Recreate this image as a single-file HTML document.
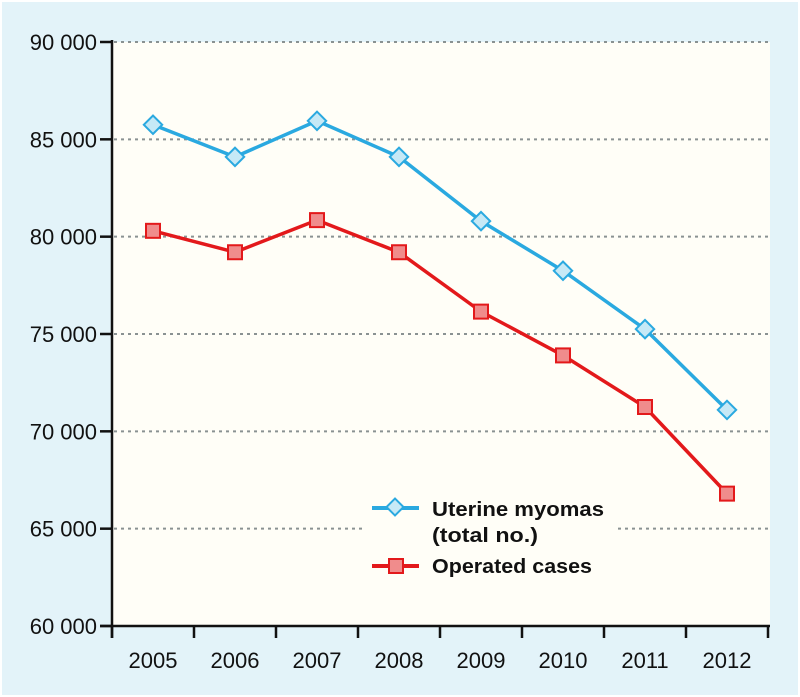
<!DOCTYPE html>
<html><head><meta charset="utf-8"><style>
html,body{margin:0;padding:0;background:#fff}
svg{display:block}
text{font-family:"Liberation Sans",sans-serif;fill:#111}
</style></head><body>
<svg id="chart" width="800" height="697" xmlns="http://www.w3.org/2000/svg">
<rect x="2" y="2" width="796" height="693" fill="#e3f3f9"/>
<rect x="112" y="42" width="658" height="584" fill="#fffef7"/>
<g id="grid"></g><g id="axes"></g><g id="series"></g>
<g>
<rect x="362" y="490" width="255" height="95" fill="#fffef7"/>
<line x1="372" y1="508" x2="419" y2="508" stroke="#2aa9e0" stroke-width="4"/>
<rect x="389" y="501" width="12" height="12" transform="rotate(45 395 507)" fill="#c6e9f6" stroke="#2aa9e0" stroke-width="2"/>
<text x="432" y="516" font-size="20" font-weight="bold" textLength="172" lengthAdjust="spacingAndGlyphs">Uterine myomas</text>
<text x="432" y="542" font-size="20" font-weight="bold" textLength="106" lengthAdjust="spacingAndGlyphs">(total no.)</text>
<line x1="372" y1="566" x2="419" y2="566" stroke="#e3191b" stroke-width="4"/>
<rect x="389" y="559" width="14" height="14" fill="#f08c8c" stroke="#e3191b" stroke-width="2"/>
<text x="432" y="573" font-size="20" font-weight="bold" textLength="160" lengthAdjust="spacingAndGlyphs">Operated cases</text>
</g>
</svg>
<script>
const categories=["2005","2006","2007","2008","2009","2010","2011","2012"];
const myomas=[85750,84100,85950,84100,80800,78250,75250,71100];
const operated=[80300,79200,80850,79200,76150,73900,71250,66800];
const yTicks=[60000,65000,70000,75000,80000,85000,90000];
const yTickLabels=["60 000","65 000","70 000","75 000","80 000","85 000","90 000"];
const NS="http://www.w3.org/2000/svg";
const x=i=>112+41+82*i;
const y=v=>626-(v-60000)*584/30000;
function mk(t,a,p){const e=document.createElementNS(NS,t);for(const k in a)e.setAttribute(k,a[k]);p.appendChild(e);return e;}
const grid=document.getElementById('grid'),axes=document.getElementById('axes'),ser=document.getElementById('series');
yTicks.forEach((v,i)=>{
 if(v>60000){const g=mk('line',{x1:114,x2:770,y1:y(v),y2:y(v),stroke:'#8a9292','stroke-width':2,'stroke-dasharray':'3 4'},grid);
 
 }
 const t=mk('line',{x1:100,x2:112,y1:y(v),y2:y(v),stroke:'#111','stroke-width':2.5},axes);
 
 
 const l=mk('text',{x:97,y:y(v)+8,'text-anchor':'end','font-size':22},axes);l.textContent=yTickLabels[i];
 
 
});
const ya=mk('line',{x1:112,x2:112,y1:40,y2:638,stroke:'#111','stroke-width':2.5},axes);


const xa=mk('line',{x1:100,x2:770,y1:626,y2:626,stroke:'#111','stroke-width':2.5},axes);


for(let i=0;i<=categories.length;i++){const t=mk('line',{x1:112+82*i,x2:112+82*i,y1:626,y2:638,stroke:'#111','stroke-width':2.5},axes);
 
 }
categories.forEach((c,i)=>{const l=mk('text',{x:x(i),y:668,'text-anchor':'middle','font-size':22},axes);l.textContent=c;
 
 });
function line(vals,color,name){const p=mk('polyline',{points:vals.map((v,i)=>x(i)+','+y(v)).join(' '),fill:'none',stroke:color,'stroke-width':3.5,'stroke-linejoin':'round'},ser);
 
 }
line(myomas,'#2aa9e0','myomas-line');
line(operated,'#e3191b','operated-line');
myomas.forEach((v,i)=>{const m=mk('rect',{x:x(i)-6.5,y:y(v)-6.5,width:13,height:13,transform:`rotate(45 ${x(i)} ${y(v)})`,fill:'#c6e9f6',stroke:'#2aa9e0','stroke-width':2},ser);
 
 });
operated.forEach((v,i)=>{const m=mk('rect',{x:x(i)-7,y:y(v)-7,width:14,height:14,fill:'#f08c8c',stroke:'#e3191b','stroke-width':2},ser);
 
 });
</script>
</body></html>
